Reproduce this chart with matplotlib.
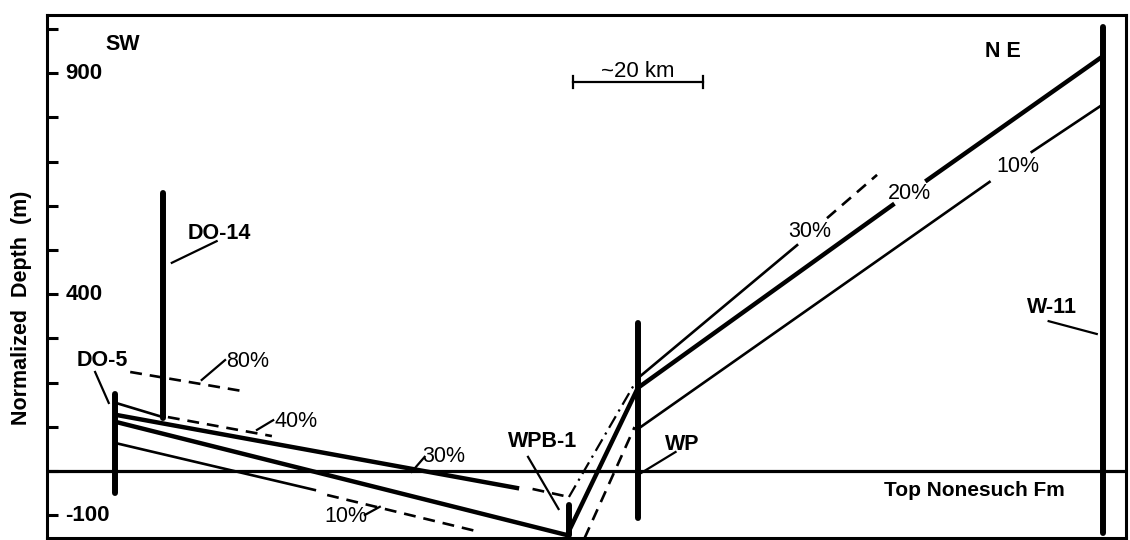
import matplotlib.pyplot as plt

plt.rcParams['font.family'] = ['Liberation Sans', 'DejaVu Sans']

# x = distancia (km) a partir da borda esquerda, y = profundidade normalizada (m)
wells = ['DO-5', 'DO-14', 'WPB-1', 'WP', 'W-11']
well_x = [10.5, 17.8, 80.3, 90.9, 162.4]
well_top = [175, 629, -77, 335, 1004]
well_bot = [-50, 120, -145, -106, -140]

# linhas solidas grossas
b_x = [10.6, 72.3]
b_y = [127, -38.5]
c_x = [10.6, 80.0, 90.9, 130.1]
c_y = [111, -145, 188, 602]
c2_x = [135.4, 162.3]
c2_y = [658, 937]

# linhas solidas finas
a_x = [10.6, 17.8]
a_y = [154, 122]
d_x = [10.6, 41.2]
d_y = [63, -43]
r30_x = [90.9, 115.4]
r30_y = [210, 511]
r10_x = [90.9, 145.0]
r10_y = [95, 654]
r10b_x = [151.5, 162.3]
r10b_y = [722, 828]

# linhas tracejadas
dash80_x = [12.8, 30.8]
dash80_y = [224, 179]
dash40_x = [18.6, 34.6]
dash40_y = [122, 79]
dashb_x = [74.7, 80.3]
dashb_y = [-40.7, -58.8]
dashd_x = [43.1, 66.6]
dashd_y = [-54.3, -138]
dash30_x = [120.0, 127.7]
dash30_y = [572, 670]
dash10_x = [82.7, 90.4]
dash10_y = [-152, 99.5]
# traco-ponto
dd30_x = [80.3, 90.9]
dd30_y = [-58.8, 210]

# rotulos dos pocos e linhas de chamada
well_lbl_x = [8.5, 26.5, 76.3, 97.8, 154.6]
well_lbl_y = [251, 538, 66, 61, 371]
lead_x0 = [7.4, 19.2, 74.0, 91.4, 154.1]
lead_y0 = [224, 471, 32, -4.5, 339]
lead_x1 = [9.5, 26.1, 78.7, 96.7, 161.5]
lead_y1 = [154, 520, -86, 43, 310]

pct_lbl = ['80%', '40%', '30%', '10%', '30%', '20%', '10%']
pct_x = [30.9, 38.3, 61.1, 46.0, 117.3, 132.7, 149.3]
pct_y = [247, 113, 32, -104, 541, 627, 688]
pct_lead_x0 = [23.8, 32.3, 56.1, 48.9]
pct_lead_y0 = [206, 93, -2, -99.5]
pct_lead_x1 = [27.4, 34.8, 58.1, 51.2]
pct_lead_y1 = [251, 115, 32, -81]

ytick_vals = list(range(-100, 1001, 100))
ylabel_vals = [900, 400, -100]

fig = plt.figure(figsize=(11.3, 5.4), dpi=100)
ax = fig.add_axes([47/1130, 2/540, 1079/1130, 523/540])
ax.set_xlim(0, 166)
ax.set_ylim(-151.6, 1031.7)

for s in ax.spines.values():
    s.set_linewidth(2.2)
ax.set_xticks([])
ax.set_yticks(ytick_vals)
ax.set_yticklabels([])
ax.tick_params(axis='y', direction='in', length=8, width=2.2)
for v in ylabel_vals:
    ax.text(2.8, v, str(v), ha='left', va='center', fontsize=16, fontweight='bold')
fig.text(22/1130, 1 - 308/540, 'Normalized  Depth  (m)', rotation=90,
         ha='center', va='center', fontsize=15.5, fontweight='bold')

# linha de referencia
ax.axhline(0, color='k', lw=2.3)
ax.text(142.7, -45, 'Top Nonesuch Fm', ha='center', va='center', fontsize=15, fontweight='bold')

# pocos
for i in range(len(wells)):
    ax.plot([well_x[i], well_x[i]], [well_bot[i], well_top[i]], color='k', lw=4.3, solid_capstyle='round')
    ax.plot([lead_x0[i], lead_x1[i]], [lead_y0[i], lead_y1[i]], color='k', lw=1.6)
    ax.text(well_lbl_x[i], well_lbl_y[i], wells[i], ha='center', va='center', fontsize=15.5, fontweight='bold')

ax.plot(b_x, b_y, color='k', lw=3.2)
ax.plot(c_x, c_y, color='k', lw=3.2)
ax.plot(c2_x, c2_y, color='k', lw=3.2)
for xs, ys in [(a_x, a_y), (d_x, d_y), (r30_x, r30_y), (r10_x, r10_y), (r10b_x, r10b_y)]:
    ax.plot(xs, ys, color='k', lw=1.9)
for xs, ys in [(dash80_x, dash80_y), (dash40_x, dash40_y), (dashb_x, dashb_y),
               (dashd_x, dashd_y), (dash30_x, dash30_y), (dash10_x, dash10_y)]:
    ax.plot(xs, ys, color='k', lw=1.9, dashes=(4.5, 3))
ax.plot(dd30_x, dd30_y, color='k', lw=1.6, dashes=(6, 2.5, 1, 2.5))

for i in range(len(pct_lbl)):
    ax.text(pct_x[i], pct_y[i], pct_lbl[i], ha='center', va='center', fontsize=15.5)
for i in range(len(pct_lead_x0)):
    ax.plot([pct_lead_x0[i], pct_lead_x1[i]], [pct_lead_y0[i], pct_lead_y1[i]], color='k', lw=1.6)

# SW / NE e escala
ax.text(11.7, 966, 'SW', ha='center', va='center', fontsize=15.5, fontweight='bold')
ax.text(147.0, 950, 'N E', ha='center', va='center', fontsize=15.5, fontweight='bold')
ax.plot([80.9, 100.9], [880, 880], color='k', lw=1.6)
ax.plot([80.9, 80.9], [866, 894], color='k', lw=1.6)
ax.plot([100.9, 100.9], [866, 894], color='k', lw=1.6)
ax.text(90.9, 903, '~20 km', ha='center', va='center', fontsize=16)

fig.savefig('out.png', dpi=100)
